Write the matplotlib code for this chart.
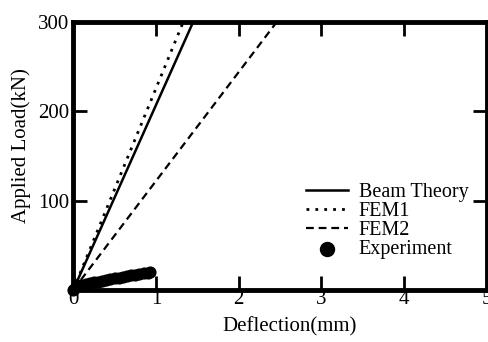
import numpy as np
import matplotlib.pyplot as plt

plt.rcParams['font.family'] = ['Liberation Serif', 'DejaVu Serif']

# load at the top of the plot and the deflection each model reaches there
load_max = 300
beam_defl = 1.45
fem1_defl = 1.33
fem2_defl = 2.46

# measured load-deflection points
exp_defl = [0.0, 0.01, 0.03, 0.06, 0.1, 0.15, 0.2, 0.25, 0.3, 0.35, 0.4, 0.45,
            0.5, 0.55, 0.6, 0.65, 0.7, 0.75, 0.8, 0.85, 0.9, 0.93]
exp_load = [0.0, 1.5, 3.0, 4.5, 5.5, 6.5, 7.5, 8.5, 9.5, 10.5, 11.5, 12.0,
            13.0, 14.0, 15.0, 15.5, 16.5, 17.0, 18.0, 18.5, 19.5, 20.0]

fig = plt.figure(figsize=(4.88, 3.42), dpi=100)
ax = fig.add_axes([0.15, 0.152, 0.848, 0.784])

ax.plot([0, beam_defl], [0, load_max], color='black', lw=1.8, ls='-',
        label='Beam Theory')
ax.plot([0, fem1_defl], [0, load_max], color='black', lw=2.0,
        ls=(0, (1, 2.2)), label='FEM1')
ax.plot([0, fem2_defl], [0, load_max], color='black', lw=1.6,
        ls=(0, (3.5, 2.2)), label='FEM2')
ax.scatter(exp_defl, exp_load, s=60, color='black', zorder=3, clip_on=False,
           label='Experiment')

ax.set_xlim(0, 5)
ax.set_ylim(0, 300)
ax.set_xticks([0, 1, 2, 3, 4, 5])
ax.set_yticks([100, 200, 300])
ax.tick_params(direction='in', length=10, width=2, top=True, right=True,
               labelsize=15)
ax.tick_params(axis='x', pad=0)
ax.tick_params(axis='y', pad=3)
for sp in ax.spines.values():
    sp.set_linewidth(3.5)

ax.set_xlabel('Deflection(mm)', fontsize=15)
ax.set_ylabel('Applied Load(kN)', fontsize=15)
ax.xaxis.set_label_coords(0.524, -0.1)
ax.yaxis.set_label_coords(-0.101, 0.537)

leg = ax.legend(loc='lower right', bbox_to_anchor=(0.979, 0.078), frameon=False,
                fontsize=14.5, handlelength=2.1, handletextpad=0.5,
                labelspacing=0.0, borderpad=0.0, markerscale=1.3)

fig.savefig('out.png', dpi=100)
